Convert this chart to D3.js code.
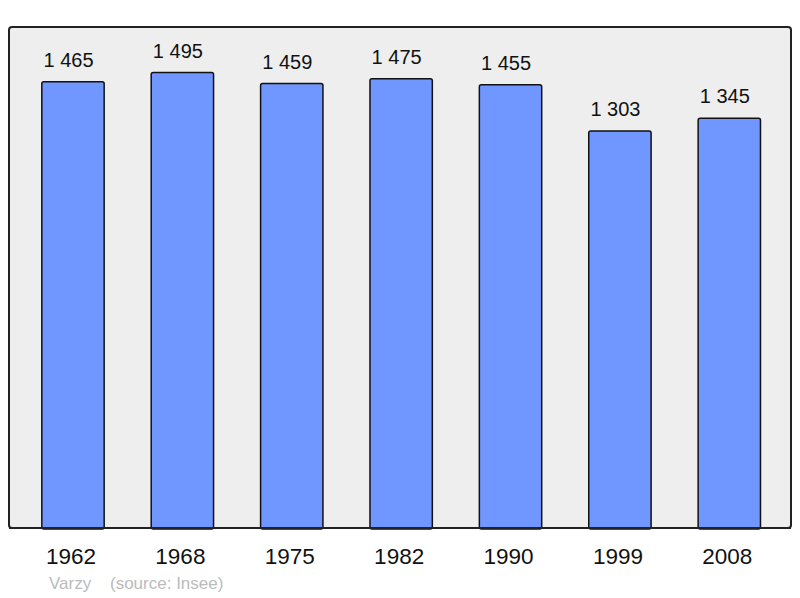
<!DOCTYPE html>
<html><head><meta charset="utf-8">
<script src="https://cdn.jsdelivr.net/npm/d3@7"></script>
<style>body{margin:0;background:#fff}svg{display:block;font-family:"Liberation Sans",Arial,sans-serif}</style>
</head><body>
<svg id="c" width="800" height="598"></svg>
<script>
const years = ["1962","1968","1975","1982","1990","1999","2008"];
const population = [1465,1495,1459,1475,1455,1303,1345];
const place = "Varzy";
const source = "(source: Insee)";

const svg = d3.select("#c");
const panel = {x0: 9, y0: 27, x1: 791, y1: 528};
svg.append("rect").attr("x", panel.x0).attr("y", panel.y0)
  .attr("width", panel.x1 - panel.x0).attr("height", panel.y1 - panel.y0)
  .attr("rx", 3).attr("fill", "#eeeeee").attr("stroke", "#222").attr("stroke-width", 2);

const x = d3.scaleBand().domain(years).range([18.3, 784]).paddingInner(0.43).paddingOuter(0.215);
const y = d3.scaleLinear().domain([0, d3.max(population) * 1.1]).range([panel.y1, panel.y0]);

const g = svg.append("g");
g.selectAll("rect.bar").data(years).join("rect").attr("class", "bar")
  .attr("x", d => x(d)).attr("width", x.bandwidth())
  .attr("y", (d, i) => y(population[i])).attr("height", (d, i) => panel.y1 - y(population[i]) + 1)
  .attr("rx", 2).attr("fill", "#7096ff").attr("stroke", "#111").attr("stroke-width", 1.5);

g.selectAll("text.val").data(years).join("text").attr("class", "val")
  .attr("x", d => x(d) + x.bandwidth() / 2 - 4.5).attr("y", (d, i) => y(population[i]) - 15)
  .attr("text-anchor", "middle").attr("font-size", 20).attr("fill", "#111")
  .text((d, i) => d3.format(",")(population[i]).replace(/,/g, " "));

svg.append("line").attr("x1", panel.x0).attr("x2", panel.x1).attr("y1", panel.y1).attr("y2", panel.y1)
  .attr("stroke", "#222").attr("stroke-width", 2);

const xAxis = d3.axisBottom(x).tickSize(0).tickPadding(0);
const ax = svg.append("g").attr("transform", `translate(-2,${panel.y1})`).call(xAxis);
ax.select(".domain").remove();
ax.selectAll("text").attr("font-size", 22.5).attr("fill", "#111")
  .attr("font-family", "'Liberation Sans',Arial,sans-serif").attr("dy", null).attr("y", 36);

svg.append("text").attr("x", 49).attr("y", 589).attr("font-size", 17).attr("fill", "#bbbbbb").text(place);
svg.append("text").attr("x", 110).attr("y", 589).attr("font-size", 17).attr("fill", "#bbbbbb").text(source);
</script>
</body></html>
